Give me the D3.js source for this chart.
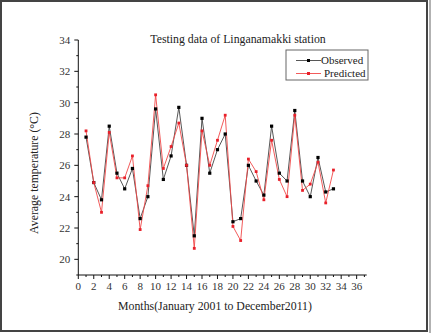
<!DOCTYPE html>
<html>
<head>
<meta charset="utf-8">
<script src="https://cdn.jsdelivr.net/npm/d3@7"></script>
<style>
  html, body { margin: 0; padding: 0; background: #fff; }
  svg { display: block; font-family: "Liberation Serif", "Times New Roman", serif; }
</style>
</head>
<body>
<svg id="chart" width="431" height="333"></svg>
<script>
// Observed / predicted average temperature per month index
const months = d3.range(1, 34);
const observed = [27.8, 24.9, 23.8, 28.5, 25.5, 24.5, 25.8, 22.6, 24.0, 29.6,
  25.1, 26.6, 29.7, 26.0, 21.5, 29.0, 25.5, 27.0, 28.0, 22.4,
  22.6, 26.0, 25.0, 24.1, 28.5, 25.5, 25.0, 29.5, 25.0, 24.0,
  26.5, 24.3, 24.5];
const predicted = [28.2, 24.9, 23.0, 28.1, 25.2, 25.2, 26.6, 21.9, 24.7, 30.5,
  25.8, 27.2, 28.7, 26.0, 20.7, 28.2, 26.0, 27.6, 29.2, 22.1,
  21.2, 26.4, 25.6, 23.8, 27.6, 25.1, 24.0, 29.2, 24.4, 24.8,
  26.2, 23.6, 25.7];
const xTicks = d3.range(0, 37, 2);
const yTicks = d3.range(20, 35, 2);

const svg = d3.select("#chart");

// outer frame
svg.append("rect").attr("x", 1).attr("y", 1).attr("width", 426).attr("height", 330)
  .attr("fill", "none").attr("stroke", "#444").attr("stroke-width", 2);
svg.append("line").attr("x1", 430).attr("x2", 430).attr("y1", 0).attr("y2", 333)
  .attr("stroke", "#666").attr("stroke-width", 1);

const x = d3.scaleLinear().domain([0, 37.3]).range([78.3, 366.7]);
const y = d3.scaleLinear().domain([19, 34]).range([275, 40]);

// y axis
const yAxis = svg.append("g").attr("transform", `translate(${x(0)},0)`);
yAxis.append("line").attr("y1", y(19)).attr("y2", y(34)).attr("stroke", "#111");
yAxis.selectAll("line.minor").data(d3.range(19, 35)).join("line")
  .attr("class", "minor")
  .attr("x1", d => d % 2 === 0 ? -4 : -2).attr("x2", 0)
  .attr("y1", d => y(d)).attr("y2", d => y(d)).attr("stroke", "#111");
yAxis.selectAll("text").data(yTicks).join("text")
  .attr("x", -8).attr("y", d => y(d)).attr("dy", "0.35em")
  .attr("text-anchor", "end").attr("font-size", 11).attr("fill", "#333")
  .text(d => d);

// x axis
const xAxis = svg.append("g").attr("transform", `translate(0,${y(19)})`);
xAxis.append("line").attr("x1", x(0)).attr("x2", x(37.3)).attr("stroke", "#111");
xAxis.selectAll("line.minor").data(d3.range(0, 38)).join("line")
  .attr("class", "minor")
  .attr("y1", 0).attr("y2", d => d % 2 === 0 ? 4 : 2)
  .attr("x1", d => x(d)).attr("x2", d => x(d)).attr("stroke", "#111");
xAxis.selectAll("text").data(xTicks).join("text")
  .attr("x", d => x(d)).attr("y", 15)
  .attr("text-anchor", "middle").attr("font-size", 11).attr("fill", "#333")
  .text(d => d);

// titles
svg.append("text").attr("x", 238).attr("y", 43).attr("text-anchor", "middle")
  .attr("font-size", 11.8).attr("fill", "#222").text("Testing data of Linganamakki station");
svg.append("text").attr("x", 215).attr("y", 310).attr("text-anchor", "middle")
  .attr("font-size", 11.8).attr("fill", "#222").text("Months(January 2001 to December2011)");
svg.append("text").attr("transform", "translate(38,173) rotate(-90)")
  .attr("text-anchor", "middle").attr("font-size", 11.8).attr("fill", "#222")
  .text("Average temperature (\u00B0C)");

// series
const obsData = months.map((m, i) => ({ m, v: observed[i] }));
const preData = months.map((m, i) => ({ m, v: predicted[i] }));
const line = d3.line().x(d => x(d.m)).y(d => y(d.v));

svg.append("path").datum(obsData).attr("d", line)
  .attr("fill", "none").attr("stroke", "#444").attr("stroke-width", 0.9);
svg.append("path").datum(preData).attr("d", line)
  .attr("fill", "none").attr("stroke", "#f04848").attr("stroke-width", 0.9);

svg.selectAll("rect.obs").data(obsData).join("rect").attr("class", "obs")
  .attr("x", d => x(d.m) - 1.6).attr("y", d => y(d.v) - 1.6)
  .attr("width", 3.2).attr("height", 3.2).attr("fill", "#000");
svg.selectAll("rect.pre").data(preData).join("rect").attr("class", "pre")
  .attr("x", d => x(d.m) - 1.4).attr("y", d => y(d.v) - 1.4)
  .attr("width", 2.8).attr("height", 2.8).attr("fill", "#e8202a");

// legend
const lg = svg.append("g");
lg.append("rect").attr("x", 286).attr("y", 50).attr("width", 82).attr("height", 30)
  .attr("fill", "#fff").attr("stroke", "#666").attr("stroke-width", 1);
const legendItems = [
  { label: "Observed", color: "#444", mark: "#000", tx: 321, yy: 60.5 },
  { label: "Predicted", color: "#f04848", mark: "#e8202a", tx: 324, yy: 73.5 }
];
legendItems.forEach(it => {
  lg.append("line").attr("x1", 296).attr("x2", 321).attr("y1", it.yy).attr("y2", it.yy)
    .attr("stroke", it.color).attr("stroke-width", 0.9);
  lg.append("rect").attr("x", 307).attr("y", it.yy - 1.5).attr("width", 3).attr("height", 3)
    .attr("fill", it.mark);
  lg.append("text").attr("x", it.tx).attr("y", it.yy).attr("dy", "0.35em")
    .attr("font-size", 11).attr("fill", "#222").text(it.label);
});
</script>
</body>
</html>
